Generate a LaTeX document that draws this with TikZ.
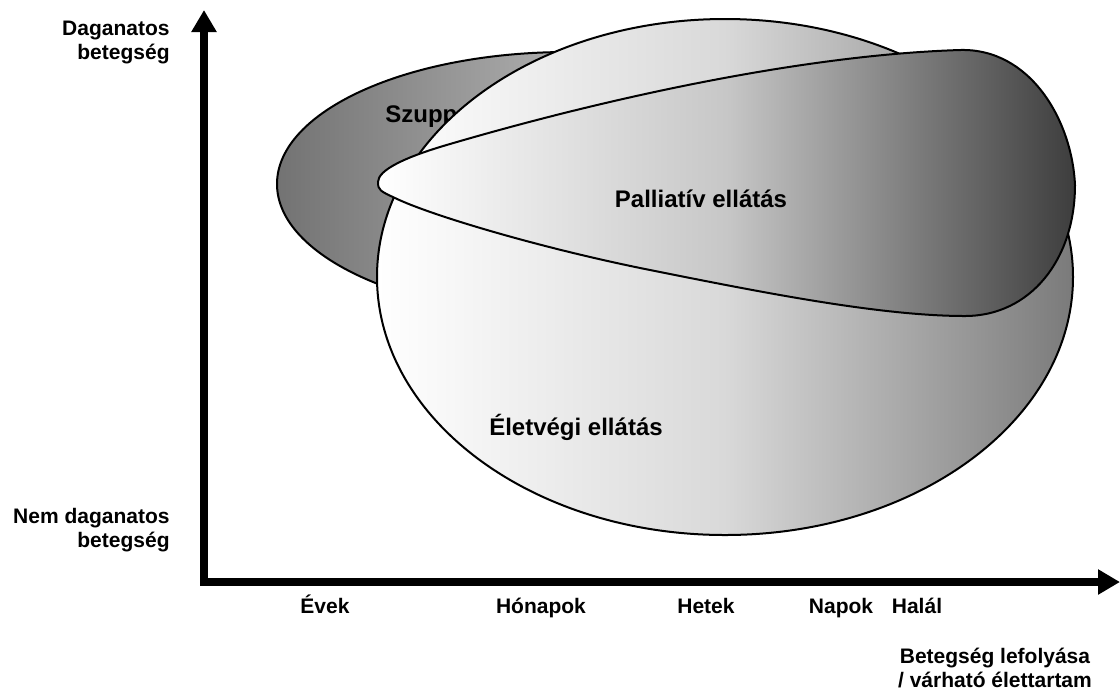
\documentclass[tikz,border=0pt]{standalone}
\usepackage{fontspec}
\setmainfont{Liberation Sans}
\usetikzlibrary{arrows.meta, positioning}
\tikzset{%
	axis/.style={line width=4pt, line join=miter,%
		{Triangle[length=11pt,width=12pt]}-{Triangle[length=11pt,width=12pt]}},
	area/.style={draw, line width=1pt},
	szupp/.style={area, left color=black!55, right color=black!8},
	eletvegi/.style={area, left color=white, right color=black!52, middle color=black!15},
	palliativ/.style={area, left color=white, right color=black!76, middle color=black!22},
	lbl/.style={font=\bfseries\fontsize{10.5pt}{12pt}\selectfont, inner sep=0pt},
	big/.style={font=\bfseries\fontsize{12pt}{14pt}\selectfont, inner sep=0pt}
}
\begin{document}
\begin{tikzpicture}[x=0.5pt, y=-0.5pt]
	\useasboundingbox (0,0) rectangle (1120,693);

	% axes
	\coordinate (ytip) at (204,10);
	\coordinate (xtip) at (1120,582);
	\draw[axis] (ytip) |- (xtip);

	% areas
	\draw[szupp] (568,184) ellipse [x radius=145.5pt, y radius=66pt];
	\node[big, anchor=base west] (szupplbl) at (385,122) {Szupportív ellátás};
	\draw[eletvegi] (725,277) ellipse [x radius=174pt, y radius=129pt];
	\draw[palliativ] (378,182) .. controls (378,170) and (405,157) .. (450,144)
		.. controls (600,100) and (800,55) .. (960,50)
		.. controls (1030,48) and (1072,120) .. (1075,185)
		.. controls (1075,260) and (1030,316) .. (965,316)
		.. controls (880,316) and (760,292) .. (650,270)
		.. controls (540,248) and (430,215) .. (395,198)
		.. controls (380,191) and (378,190) .. cycle;
	\node[big, anchor=base] (palliativlbl) at (701,207) {Palliatív ellátás};
	\node[big, anchor=base] (eletvegilbl) at (576,435) {Életvégi ellátás};

	% axis labels
	\node[lbl, align=right, anchor=north east] (rak) at (170,21) {Daganatos\\betegség};
	\node[lbl, align=right, anchor=north east] (nemrak) at (170,508) {Nem daganatos\\betegség};
	\foreach \x/\t in {325/Évek, 541/Hónapok, 706/Hetek, 841/Napok, 917/Halál}
		\node[lbl, anchor=base] (t\x) at (\x,613) {\t};
	\node[lbl, align=center, anchor=north] (lefolyas) at (995,648) {Betegség lefolyása\\/ várható élettartam};
\end{tikzpicture}
\end{document}
